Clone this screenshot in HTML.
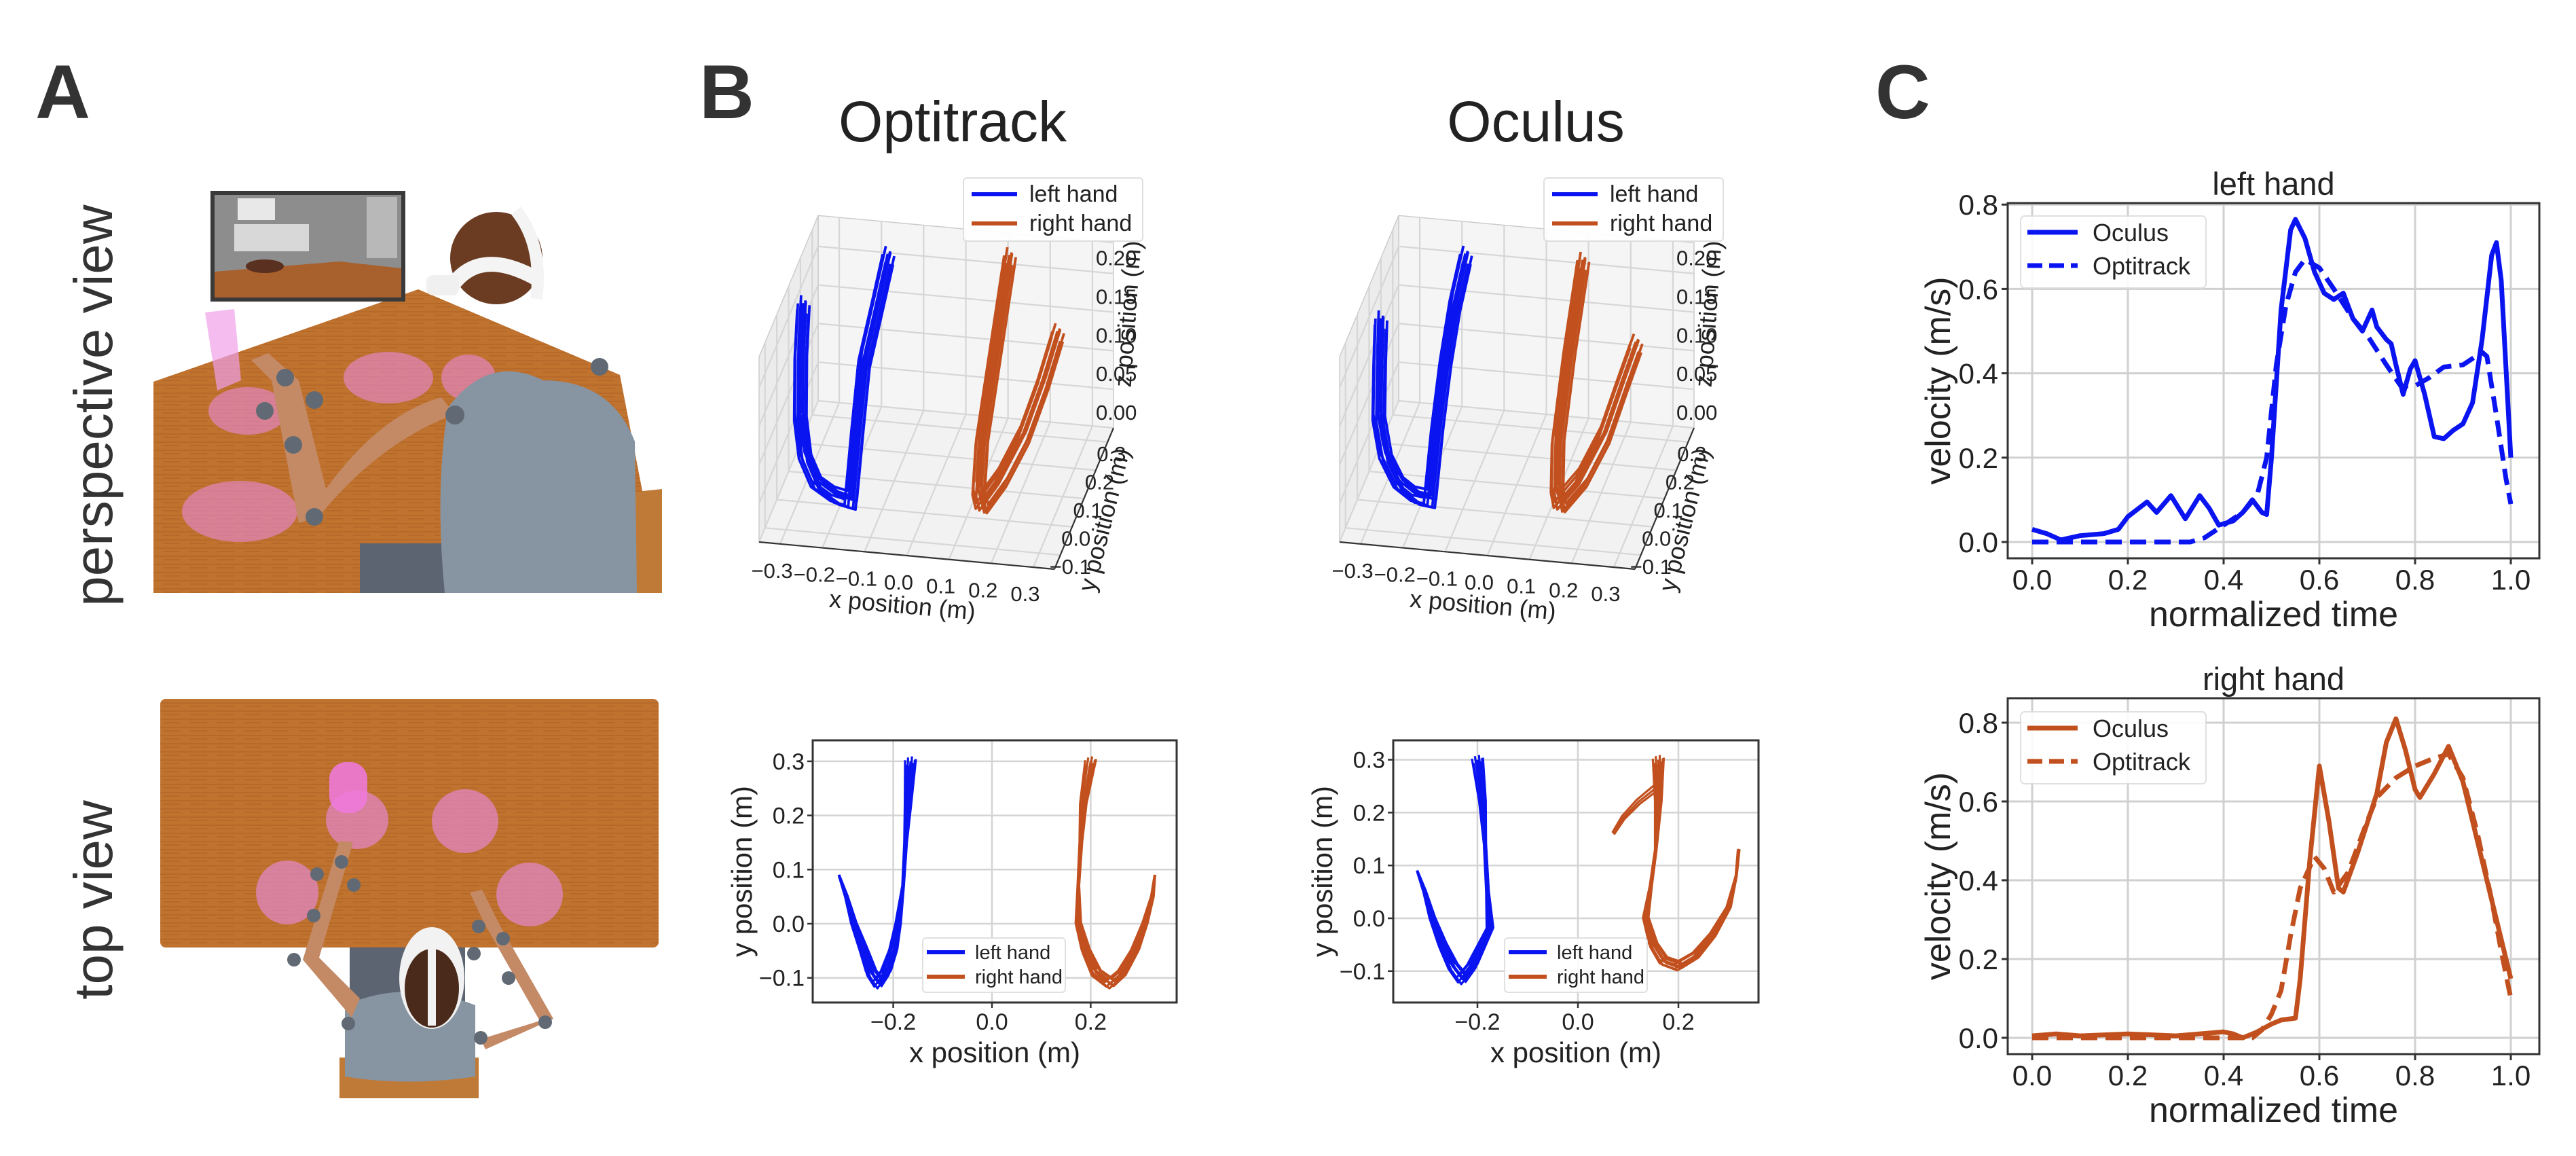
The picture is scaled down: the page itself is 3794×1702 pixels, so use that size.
<!DOCTYPE html>
<html><head><meta charset="utf-8"><style>
html,body{margin:0;padding:0;background:#fff}
svg{display:block;font-family:"Liberation Sans","DejaVu Sans",sans-serif}
</style></head><body>
<svg id="fig" xmlns="http://www.w3.org/2000/svg" width="3794" height="1702" viewBox="0 0 3794 1702">
<rect x="0" y="0" width="3794" height="1702" fill="#fff"/>
<defs>
<pattern id="wood" width="40" height="12" patternUnits="userSpaceOnUse"><rect width="40" height="12" fill="#c0722f"/><path d="M0 3 H40 M0 8 H25" stroke="#a85e22" stroke-width="1.5" opacity="0.6"/></pattern>
</defs>
<text x="52" y="174" font-size="112" font-weight="bold" fill="#333">A</text>
<text x="1030" y="174" font-size="112" font-weight="bold" fill="#333">B</text>
<text x="2762" y="174" font-size="112" font-weight="bold" fill="#333">C</text>
<text transform="translate(165,597) rotate(-90)" text-anchor="middle" font-size="80" fill="#333">perspective view</text>
<text transform="translate(165,1325) rotate(-90)" text-anchor="middle" font-size="80" fill="#333">top view</text>

<g>
 <polygon points="226,562 616,426 913,552 975,873 226,873" fill="url(#wood)"/>
 <g>
  <rect x="310" y="281" width="287" height="163" fill="#3a3a3a"/>
  <rect x="316" y="287" width="275" height="151" fill="#8d8d8d"/>
  <rect x="350" y="292" width="55" height="32" fill="#e8e8e8"/>
  <rect x="345" y="330" width="110" height="40" fill="#d8d8d8"/>
  <rect x="540" y="290" width="45" height="90" fill="#b8b8b8"/>
  <polygon points="316,400 500,385 591,395 591,438 316,438" fill="#a8602c"/>
  <ellipse cx="390" cy="392" rx="28" ry="10" fill="#5a3020"/>
 </g>
 <polygon points="302,460 345,455 355,560 320,575" fill="#f0a0e8" opacity="0.7"/>
 <ellipse cx="353" cy="753" rx="85" ry="45" fill="#e78ad8" opacity="0.6"/>
 <ellipse cx="365" cy="605" rx="58" ry="35" fill="#e78ad8" opacity="0.6"/>
 <ellipse cx="572" cy="556" rx="66" ry="38" fill="#e78ad8" opacity="0.6"/>
 <ellipse cx="690" cy="556" rx="40" ry="34" fill="#e78ad8" opacity="0.6"/>
 <polygon points="880,730 975,720 975,873 850,873" fill="#c07a38"/>
 <rect x="530" y="800" width="150" height="73" fill="#5b6470"/>
 <path d="M660,600 Q720,520 800,560 Q900,560 935,650 L938,873 L655,873 Q640,720 660,600 Z" fill="#8794a2"/>
 <path d="M670,610 Q560,650 470,760 L440,770 L400,560 L370,530 L395,520 L440,560 L480,720 Q560,610 650,585 Z" fill="#c48a66"/>
 <circle cx="731" cy="380" r="68" fill="#6b3b22"/>
 <path d="M660,430 Q700,360 790,410" stroke="#f4f4f4" stroke-width="22" fill="none"/>
 <path d="M760,310 Q800,360 790,440" stroke="#f4f4f4" stroke-width="18" fill="none"/>
 <rect x="628" y="405" width="48" height="30" rx="10" fill="#f0f0f0"/>
 <g fill="#616a74">
  <circle cx="420" cy="556" r="13"/><circle cx="463" cy="589" r="13"/><circle cx="390" cy="605" r="13"/>
  <circle cx="432" cy="655" r="13"/><circle cx="463" cy="761" r="13"/><circle cx="670" cy="611" r="14"/><circle cx="883" cy="540" r="13"/>
 </g>
</g>

<g>
 <rect x="236" y="1029" width="734" height="366" rx="8" fill="url(#wood)"/>
 <g fill="#e78ad8" opacity="0.65">
  <ellipse cx="526" cy="1207" rx="46" ry="43"/><ellipse cx="685" cy="1209" rx="49" ry="47"/>
  <ellipse cx="423" cy="1314" rx="46" ry="47"/><ellipse cx="780" cy="1317" rx="49" ry="47"/>
 </g>
 <rect x="485" y="1122" width="56" height="75" rx="25" fill="#f07ae0" opacity="0.85"/>
 <rect x="515" y="1395" width="170" height="170" fill="#5b6470"/>
 <rect x="500" y="1557" width="205" height="60" fill="#c07a38"/>
 <path d="M508,1480 Q600,1440 700,1480 L700,1585 Q600,1600 508,1585 Z" fill="#8794a2"/>
 <path d="M518,1498 L446,1413 L500,1238 L520,1240 L470,1410 L530,1470 Z" fill="#c48a66"/>
 <path d="M708,1530 L795,1503 L713,1359 L692,1314 L710,1310 L735,1360 L815,1500 L715,1545 Z" fill="#c48a66"/>
 <ellipse cx="636" cy="1440" rx="48" ry="75" fill="#f2f2f2"/>
 <ellipse cx="636" cy="1455" rx="40" ry="58" fill="#4a2a1a"/>
 <rect x="630" y="1395" width="12" height="115" fill="#f2f2f2"/>
 <g fill="#616a74">
  <circle cx="503" cy="1269" r="10"/><circle cx="467" cy="1287" r="10"/><circle cx="521" cy="1303" r="10"/>
  <circle cx="462" cy="1348" r="10"/><circle cx="433" cy="1413" r="10"/><circle cx="513" cy="1507" r="10"/>
  <circle cx="705" cy="1364" r="10"/><circle cx="741" cy="1382" r="10"/><circle cx="698" cy="1404" r="10"/>
  <circle cx="749" cy="1440" r="10"/><circle cx="803" cy="1505" r="10"/><circle cx="708" cy="1528" r="10"/>
 </g>
</g>

<text x="1403" y="208" text-anchor="middle" font-size="84" fill="#222">Optitrack</text>
<text x="2262" y="208" text-anchor="middle" font-size="84" fill="#222">Oculus</text>

<g id="b3d"></g>
<g id="b2d"></g>
<g id="c"></g>
</svg>
<script>
var NS='http://www.w3.org/2000/svg';
var BLUE='#0a14f0', ORANGE='#c2501e';

var leftOculusT=[0,0.03,0.06,0.1,0.15,0.18,0.2,0.24,0.26,0.29,0.32,0.35,0.37,0.39,0.42,0.44,0.46,0.48,0.49,0.5,0.52,0.54,0.55,0.57,0.59,0.61,0.63,0.65,0.67,0.69,0.71,0.72,0.74,0.75,0.76,0.775,0.79,0.8,0.82,0.84,0.86,0.88,0.9,0.92,0.94,0.96,0.97,0.98,1.0];
var leftOculusV=[0.03,0.02,0.005,0.015,0.02,0.03,0.06,0.095,0.07,0.11,0.055,0.11,0.08,0.04,0.05,0.07,0.1,0.07,0.065,0.2,0.55,0.74,0.765,0.72,0.64,0.59,0.575,0.59,0.53,0.5,0.55,0.51,0.48,0.47,0.42,0.35,0.41,0.43,0.35,0.25,0.245,0.265,0.28,0.33,0.48,0.68,0.71,0.62,0.2];
var leftOptiT=[0,0.05,0.2,0.33,0.36,0.4,0.44,0.47,0.49,0.51,0.53,0.55,0.57,0.6,0.63,0.67,0.7,0.74,0.77,0.8,0.83,0.86,0.9,0.94,0.95,0.97,0.99,1.0];
var leftOptiV=[0,0,0,0,0.01,0.04,0.07,0.11,0.2,0.42,0.56,0.64,0.67,0.65,0.6,0.53,0.49,0.42,0.37,0.37,0.39,0.415,0.42,0.45,0.44,0.3,0.15,0.09];
var rightOculusT=[0,0.05,0.1,0.2,0.3,0.4,0.42,0.44,0.47,0.5,0.52,0.55,0.56,0.58,0.6,0.62,0.64,0.65,0.68,0.72,0.74,0.76,0.78,0.8,0.81,0.84,0.87,0.9,0.93,0.96,1.0];
var rightOculusV=[0.005,0.01,0.005,0.01,0.005,0.015,0.01,0.0,0.015,0.035,0.045,0.05,0.15,0.45,0.69,0.55,0.38,0.37,0.47,0.62,0.75,0.81,0.73,0.63,0.61,0.67,0.74,0.65,0.5,0.35,0.15];
var rightOptiT=[0,0.3,0.4,0.46,0.48,0.5,0.52,0.54,0.56,0.59,0.61,0.63,0.66,0.7,0.72,0.76,0.8,0.84,0.87,0.9,0.93,0.96,0.98,1.0];
var rightOptiV=[0,0,0,0,0.02,0.06,0.12,0.26,0.38,0.46,0.43,0.37,0.42,0.55,0.61,0.66,0.69,0.71,0.72,0.66,0.52,0.35,0.22,0.1];
var cXTicks=[0,0.2,0.4,0.6,0.8,1.0];
var cXTickLabels=['0.0','0.2','0.4','0.6','0.8','1.0'];
var cYTicks=[0,0.2,0.4,0.6,0.8];
var cYTickLabels=['0.0','0.2','0.4','0.6','0.8'];
var legendC=['Oculus','Optitrack'];

var optiLeftX=[-0.31,-0.295,-0.28,-0.26,-0.245,-0.23,-0.215,-0.2,-0.19,-0.18,-0.175,-0.17,-0.165];
var optiLeftY=[0.09,0.05,0.0,-0.05,-0.09,-0.11,-0.09,-0.05,0.0,0.07,0.15,0.22,0.30];
var optiRightX=[0.33,0.325,0.31,0.29,0.265,0.24,0.21,0.19,0.175,0.175,0.18,0.185,0.2];
var optiRightY=[0.09,0.05,0.0,-0.05,-0.09,-0.11,-0.09,-0.05,0.0,0.07,0.15,0.22,0.30];
var ocuLeftX=[-0.32,-0.305,-0.29,-0.27,-0.25,-0.23,-0.21,-0.19,-0.175,-0.18,-0.185,-0.19,-0.2];
var ocuLeftY=[0.09,0.05,0.0,-0.05,-0.09,-0.115,-0.09,-0.05,-0.02,0.05,0.14,0.22,0.30];
var ocuRightX=[0.32,0.315,0.3,0.27,0.235,0.2,0.17,0.15,0.135,0.145,0.155,0.16,0.16];
var ocuRightY=[0.13,0.08,0.02,-0.03,-0.07,-0.09,-0.08,-0.05,0.0,0.06,0.13,0.22,0.30];
var ocuStrayX=[0.16,0.12,0.09,0.07];
var ocuStrayY=[0.25,0.22,0.19,0.16];
var trialDx=[0,0.006,-0.005,0.009,-0.008,0.003,-0.002,0.011,-0.011,0.005];
var trialDy=[0,-0.005,0.007,0.003,-0.006,0.009,-0.009,0.004,0.002,-0.003];
var b2XTicks=[-0.2,0,0.2];
var b2XTickLabels=['\u22120.2','0.0','0.2'];
var b2YTicks=[-0.1,0,0.1,0.2,0.3];
var b2YTickLabels=['\u22120.1','0.0','0.1','0.2','0.3'];
var legendB=['left hand','right hand'];

var opti3LeftX=[-0.313,-0.308,-0.295,-0.27,-0.23,-0.18,-0.145,-0.16,-0.172,-0.17,-0.171];
var opti3LeftY=[0.09,0.05,0.0,-0.05,-0.09,-0.105,-0.11,0.0,0.1,0.2,0.3];
var opti3LeftZ=[0.22,0.17,0.11,0.08,0.06,0.05,0.048,0.1,0.15,0.185,0.214];
var opti3RightX=[0.117,0.125,0.135,0.15,0.166,0.2,0.24,0.27,0.29];
var opti3RightY=[0.3,0.15,0.0,-0.08,-0.11,-0.07,-0.02,0.04,0.09];
var opti3RightZ=[0.227,0.16,0.1,0.065,0.059,0.08,0.12,0.17,0.214];
var ocu3LeftX=[-0.32,-0.312,-0.3,-0.27,-0.225,-0.18,-0.148,-0.162,-0.17,-0.175,-0.178];
var ocu3LeftY=[0.09,0.05,0.0,-0.05,-0.09,-0.105,-0.11,0.0,0.1,0.2,0.3];
var ocu3LeftZ=[0.2,0.16,0.11,0.08,0.06,0.05,0.05,0.1,0.15,0.19,0.214];
var ocu3RightX=[0.1,0.11,0.125,0.145,0.16,0.2,0.24,0.265,0.285];
var ocu3RightY=[0.3,0.15,0.0,-0.08,-0.11,-0.07,-0.02,0.04,0.09];
var ocu3RightZ=[0.22,0.16,0.1,0.068,0.06,0.08,0.12,0.165,0.2];
var b3XTicks=[-0.3,-0.2,-0.1,0,0.1,0.2,0.3];
var b3XTickLabels=['\u22120.3','\u22120.2','\u22120.1','0.0','0.1','0.2','0.3'];
var b3YTicks=[-0.1,0,0.1,0.2,0.3];
var b3YTickLabels=['\u22120.1','0.0','0.1','0.2','0.3'];
var b3ZTicks=[0,0.05,0.1,0.15,0.2];
var b3ZTickLabels=['0.00','0.05','0.10','0.15','0.20'];

function mk(parent,tag,attrs,text){var e=document.createElementNS(NS,tag);for(var k in attrs)e.setAttribute(k,attrs[k]);if(text!==undefined)e.textContent=text;parent.appendChild(e);return e;}

function lineChart(g,L){
  var sx=function(t){return L.x0+t*L.xs;}, sy=function(v){return L.y0-v*L.ys;};
  var box=mk(g,'rect',{x:L.l,y:L.t,width:L.r-L.l,height:L.b-L.t,fill:'#fff',stroke:'none'});
  
  
  cXTicks.forEach(function(t,i){
    var gl=mk(g,'line',{x1:sx(t),x2:sx(t),y1:L.t,y2:L.b,stroke:'#d0d0d0','stroke-width':3});
    
    
    mk(g,'line',{x1:sx(t),x2:sx(t),y1:L.b,y2:L.b+9,stroke:'#333','stroke-width':3});
    var tl=mk(g,'text',{x:sx(t),y:L.b+46,'text-anchor':'middle','font-size':42,fill:'#222'},cXTickLabels[i]);
    
    
  });
  cYTicks.forEach(function(v,i){
    var gl=mk(g,'line',{x1:L.l,x2:L.r,y1:sy(v),y2:sy(v),stroke:'#d0d0d0','stroke-width':3});
    
    
    mk(g,'line',{x1:L.l-9,x2:L.l,y1:sy(v),y2:sy(v),stroke:'#333','stroke-width':3});
    var tl=mk(g,'text',{x:L.l-14,y:sy(v)+15,'text-anchor':'end','font-size':42,fill:'#222'},cYTickLabels[i]);
    
    
  });
  function path(T,V){var d='';for(var i=0;i<T.length;i++){d+=(i?'L':'M')+sx(T[i]).toFixed(1)+','+sy(V[i]).toFixed(1);}return d;}
  var p2=mk(g,'path',{d:path(L.t2,L.v2),fill:'none',stroke:L.color,'stroke-width':7,'stroke-dasharray':'24 12','stroke-linejoin':'round'});
  
  
  var p1=mk(g,'path',{d:path(L.t1,L.v1),fill:'none',stroke:L.color,'stroke-width':7,'stroke-linejoin':'round'});
  
  
  var fr=mk(g,'rect',{x:L.l,y:L.t,width:L.r-L.l,height:L.b-L.t,fill:'none',stroke:'#333','stroke-width':3});
  
  
  var tt=mk(g,'text',{x:(L.l+L.r)/2,y:L.t-12,'text-anchor':'middle','font-size':47,fill:'#222'},L.title);
  
  
  var xl=mk(g,'text',{x:(L.l+L.r)/2,y:L.b+100,'text-anchor':'middle','font-size':52,fill:'#222'},'normalized time');
  
  
  var yl=mk(g,'text',{transform:'translate(2872,'+((L.t+L.b)/2)+') rotate(-90)','text-anchor':'middle','font-size':52,fill:'#222'},'velocity (m/s)');
  
  
  var lg=mk(g,'g',{});
  
  
  mk(lg,'rect',{x:L.l+19,y:L.lt,width:273,height:106,rx:6,fill:'#fff',stroke:'#ddd','stroke-width':2,opacity:0.9});
  legendC.forEach(function(s,i){
    var yy=L.lt+24+i*49;
    var ln=mk(lg,'line',{x1:L.l+29,x2:L.l+103,y1:yy,y2:yy,stroke:L.color,'stroke-width':7,'stroke-dasharray':i?'22 10':'none'});
    
    
    var tx=mk(lg,'text',{x:L.l+125,y:yy+13,'font-size':36,fill:'#222'},s);
    
    
  });
}
var cg=document.getElementById('c');


var cTop=mk(cg,'g',{});


lineChart(cTop,{name:'left-hand',title:'left hand',l:2957,r:3740,t:299,b:822,x0:2993,xs:705,y0:798,ys:621,color:BLUE,t1:leftOculusT,v1:leftOculusV,t2:leftOptiT,v2:leftOptiV,lt:318});
var cBot=mk(cg,'g',{});


lineChart(cBot,{name:'right-hand',title:'right hand',l:2957,r:3740,t:1028,b:1552,x0:2993,xs:705,y0:1528,ys:580,color:ORANGE,t1:rightOculusT,v1:rightOculusV,t2:rightOptiT,v2:rightOptiV,lt:1048});

function traj2d(g,L){
  var sx=function(x){return L.x0+x*L.xs;}, sy=function(y){return L.y0-y*L.ys;};
  var bg=mk(g,'rect',{x:L.l,y:L.t,width:L.r-L.l,height:L.b-L.t,fill:'#fff'});
  
  
  b2XTicks.forEach(function(x,i){
    mk(g,'line',{x1:sx(x),x2:sx(x),y1:L.t,y2:L.b,stroke:'#d4d4d4','stroke-width':2.5});
    mk(g,'line',{x1:sx(x),x2:sx(x),y1:L.b,y2:L.b+8,stroke:'#333','stroke-width':2.5});
    var t=mk(g,'text',{x:sx(x),y:L.b+40,'text-anchor':'middle','font-size':34,fill:'#222'},b2XTickLabels[i]);
    
    
  });
  b2YTicks.forEach(function(y,i){
    mk(g,'line',{x1:L.l,x2:L.r,y1:sy(y),y2:sy(y),stroke:'#d4d4d4','stroke-width':2.5});
    mk(g,'line',{x1:L.l-8,x2:L.l,y1:sy(y),y2:sy(y),stroke:'#333','stroke-width':2.5});
    var t=mk(g,'text',{x:L.l-12,y:sy(y)+12,'text-anchor':'end','font-size':34,fill:'#222'},b2YTickLabels[i]);
    
    
  });
  function drawSet(X,Y,color,nm,n){
    for(var k=0;k<n;k++){
      var d='';
      for(var i=0;i<X.length;i++){
        var f=Math.abs(Y[i]-0.1)/0.2;
        d+=(i?'L':'M')+sx(X[i]+trialDx[k]*f).toFixed(1)+','+sy(Y[i]+trialDy[k]*f).toFixed(1);
      }
      var p=mk(g,'path',{d:d,fill:'none',stroke:color,'stroke-width':3.2,'stroke-linejoin':'round'});
      
      
    }
  }
  drawSet(L.lx,L.ly,BLUE,'left-hand',10);
  drawSet(L.rx,L.ry,ORANGE,'right-hand',10);
  if(L.sx){drawSet(L.sx,L.sy,ORANGE,'right-hand-stray',3);}
  var fr=mk(g,'rect',{x:L.l,y:L.t,width:L.r-L.l,height:L.b-L.t,fill:'none',stroke:'#333','stroke-width':3});
  
  
  var xl=mk(g,'text',{x:(L.l+L.r)/2,y:L.b+88,'text-anchor':'middle','font-size':42,fill:'#222'},'x position (m)');
  
  
  var yl=mk(g,'text',{transform:'translate('+(L.l-90)+','+((L.t+L.b)/2)+') rotate(-90)','text-anchor':'middle','font-size':42,fill:'#222'},'y position (m)');
  
  
  var lg=mk(g,'g',{});
  
  
  mk(lg,'rect',{x:L.lgx,y:1381,width:210,height:80,rx:5,fill:'#fff',stroke:'#ddd','stroke-width':2,opacity:0.9});
  legendB.forEach(function(s,i){
    var yy=1402+i*36;
    mk(lg,'line',{x1:L.lgx+6,x2:L.lgx+62,y1:yy,y2:yy,stroke:i?ORANGE:BLUE,'stroke-width':6});
    var t=mk(lg,'text',{x:L.lgx+77,y:yy+10,'font-size':29,fill:'#222'},s);
    
    
  });
}
var b2=document.getElementById('b2d');
var b2a=mk(b2,'g',{});


traj2d(b2a,{name:'optitrack-2d',l:1197,r:1733,t:1090,b:1476,x0:1461,xs:727,y0:1360,ys:797,lx:optiLeftX,ly:optiLeftY,rx:optiRightX,ry:optiRightY,lgx:1359});
var b2b=mk(b2,'g',{});


traj2d(b2b,{name:'oculus-2d',l:2052,r:2590,t:1090,b:1476,x0:2324,xs:740,y0:1352,ys:778,lx:ocuLeftX,ly:ocuLeftY,rx:ocuRightX,ry:ocuRightY,sx:ocuStrayX,sy:ocuStrayY,lgx:2216});

var XMIN=-0.35,XMAX=0.35,YMIN=-0.15,YMAX=0.35,ZMAX=0.24;
function traj3d(g,L){
  var FL=L.FL;
  function P(x,y,z){
    var u=(x-XMIN)/(XMAX-XMIN), v=(y-YMIN)/(YMAX-YMIN), w=z/0.22;
    return [FL[0]+435*u+87*v, FL[1]+40*u-208*v-250*w];
  }
  function poly(pts,fill,nm){var s=pts.map(function(p){var q=P(p[0],p[1],p[2]);return q[0].toFixed(1)+','+q[1].toFixed(1);}).join(' ');var e=mk(g,'polygon',{points:s,fill:fill,stroke:'#ccc','stroke-width':1.5});}
  function ln(a,b,c){var p=P(a[0],a[1],a[2]),q=P(b[0],b[1],b[2]);return mk(g,'line',{x1:p[0],y1:p[1],x2:q[0],y2:q[1],stroke:c||'#d6d6d6','stroke-width':2.2});}
  poly([[XMIN,YMIN,0],[XMAX,YMIN,0],[XMAX,YMAX,0],[XMIN,YMAX,0]],'#f2f2f2','floor-pane');
  poly([[XMIN,YMAX,0],[XMAX,YMAX,0],[XMAX,YMAX,ZMAX],[XMIN,YMAX,ZMAX]],'#f5f5f5','back-pane');
  poly([[XMIN,YMIN,0],[XMIN,YMAX,0],[XMIN,YMAX,ZMAX],[XMIN,YMIN,ZMAX]],'#ececec','side-pane');
  b3XTicks.forEach(function(x,i){
    ln([x,YMIN,0],[x,YMAX,0]); ln([x,YMAX,0],[x,YMAX,ZMAX]);
    var p=P(x,YMIN,0);
    var t=mk(g,'text',{x:p[0]-12,y:p[1]+50,'text-anchor':'middle','font-size':31,fill:'#222'},b3XTickLabels[i]);
    
    
  });
  b3YTicks.forEach(function(y,i){
    ln([XMIN,y,0],[XMAX,y,0]); ln([XMIN,y,0],[XMIN,y,ZMAX]);
    var p=P(XMAX,y,0);
    var t=mk(g,'text',{x:p[0]-16,y:p[1]+28,'font-size':31,fill:'#222'},b3YTickLabels[i]);
    
    
  });
  b3ZTicks.forEach(function(z,i){
    ln([XMIN,YMAX,z],[XMAX,YMAX,z]); ln([XMIN,YMIN,z],[XMIN,YMAX,z]);
    var p=P(XMAX,YMAX,z);
    var t=mk(g,'text',{x:p[0]-26,y:p[1]-12,'font-size':31,fill:'#222'},b3ZTickLabels[i]);
    
    
  });
  ln([XMIN,YMIN,0],[XMAX,YMIN,0],'#333'); ln([XMAX,YMIN,0],[XMAX,YMAX,0],'#333');
  function drawSet(X,Y,Z,color,nm){
    for(var k=0;k<10;k++){
      var d='';
      for(var i=0;i<X.length;i++){
        var q=P(X[i]+trialDx[k]*1.3,Y[i]+trialDy[k],Z[i]+trialDy[(k+3)%10]*1.2);
        d+=(i?'L':'M')+q[0].toFixed(1)+','+q[1].toFixed(1);
      }
      var p=mk(g,'path',{d:d,fill:'none',stroke:color,'stroke-width':3.8,'stroke-linejoin':'round'});
      
      
    }
  }
  drawSet(L.lx,L.ly,L.lz,BLUE,'left-hand');
  drawSet(L.rx,L.ry,L.rz,ORANGE,'right-hand');
  var xl=mk(g,'text',{transform:'translate('+(FL[0]+210)+','+(FL[1]+105)+') rotate(5)','text-anchor':'middle','font-size':36,fill:'#222'},'x position (m)');
  
  
  var yl=mk(g,'text',{transform:'translate('+(FL[0]+520)+','+(FL[1]-30)+') rotate(-76)','text-anchor':'middle','font-size':36,fill:'#222'},'y position (m)');
  
  
  var zl=mk(g,'text',{transform:'translate('+(FL[0]+555)+','+(FL[1]-335)+') rotate(-86)','text-anchor':'middle','font-size':36,fill:'#222'},'z position (m)');
  
  
  var lg=mk(g,'g',{});
  
  
  mk(lg,'rect',{x:L.lgx,y:262,width:264,height:93,rx:5,fill:'#fff',stroke:'#ddd','stroke-width':2,opacity:0.92});
  legendB.forEach(function(s,i){
    var yy=286+i*43;
    mk(lg,'line',{x1:L.lgx+12,x2:L.lgx+79,y1:yy,y2:yy,stroke:i?ORANGE:BLUE,'stroke-width':6});
    var t=mk(lg,'text',{x:L.lgx+97,y:yy+11,'font-size':34,fill:'#222'},s);
    
    
  });
}
var b3=document.getElementById('b3d');
var b3a=mk(b3,'g',{});


traj3d(b3a,{FL:[1118,798],lx:opti3LeftX,ly:opti3LeftY,lz:opti3LeftZ,rx:opti3RightX,ry:opti3RightY,rz:opti3RightZ,lgx:1419});
var b3b=mk(b3,'g',{});


traj3d(b3b,{FL:[1973,798],lx:ocu3LeftX,ly:ocu3LeftY,lz:ocu3LeftZ,rx:ocu3RightX,ry:ocu3RightY,rz:ocu3RightZ,lgx:2274});
</script>
</body></html>
